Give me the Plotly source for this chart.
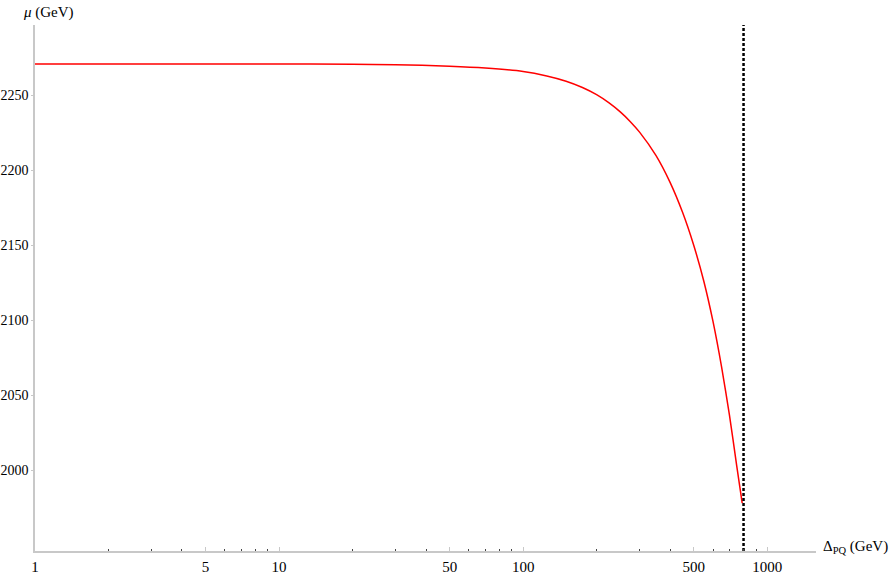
"""mu vs Delta_PQ curve, Mathematica-style log-x plot."""

import plotly.graph_objects as go

_FONT = "Liberation Serif, Times New Roman, serif"
_AXIS = "#c8c8c8"
_RED = "#ff0000"

# red curve
delta_pq = [1, 3, 10, 20, 30, 50, 70, 100, 125, 150, 175, 200, 225, 250, 275,
            300, 350, 400, 450, 500, 550, 600, 650, 700, 750, 790]
mu = [2271, 2271, 2271, 2270.8, 2270.5, 2269.5, 2268.3, 2266, 2263, 2259.5,
      2255.3, 2250.5, 2245, 2239, 2232.5, 2225.5, 2210, 2192, 2172, 2150,
      2126, 2099, 2069, 2037, 2003, 1978]

# vertical dashed boundary
bound_x = [800, 800]
bound_y = [1946, 2297]

x_ticks = [1, 5, 10, 50, 100, 500, 1000]
x_minor = [2, 3, 4, 6, 7, 8, 9, 20, 30, 40, 60, 70, 80, 90,
           200, 300, 400, 600, 700, 800, 900]
y_ticks = [2000, 2050, 2100, 2150, 2200, 2250]

fig = go.Figure()
fig.add_trace(go.Scatter(
    x=delta_pq, y=mu, mode="lines",
    line=dict(color=_RED, width=1.5, shape="spline", smoothing=0.8),
))
fig.add_trace(go.Scatter(
    x=bound_x, y=bound_y, mode="lines",
    line=dict(color="black", width=2.5, dash="3px,2px"),
))

fig.update_layout(
    width=893, height=574,
    plot_bgcolor="white", paper_bgcolor="white",
    margin=dict(l=35, r=77, t=25, b=23),
    font=dict(family=_FONT, size=15, color="black"),
    showlegend=False,
    xaxis=dict(
        type="log", range=[0, 3.2], showgrid=False, zeroline=False,
        showline=True, linecolor=_AXIS, linewidth=1.5,
        tickvals=x_ticks, ticktext=[str(v) for v in x_ticks],
        ticks="inside", ticklen=4, tickcolor=_AXIS,
        minor=dict(tickvals=x_minor, ticks="inside", ticklen=2,
                   tickcolor="#444444", showgrid=False),
        automargin=False, ticklabelstandoff=1,
    ),
    yaxis=dict(
        range=[1946, 2297], showgrid=False, zeroline=False,
        showline=True, linecolor=_AXIS, linewidth=1.5,
        tickvals=y_ticks, ticks="outside", ticklen=2, tickcolor=_AXIS,
        tickfont=dict(size=14), automargin=False, ticklabelstandoff=0,
    ),
    annotations=[
        dict(text="<i>μ</i> (GeV)", xref="paper", yref="paper",
             x=-0.018, y=1.0, yshift=13, xanchor="left", yanchor="middle",
             showarrow=False, font=dict(size=15)),
        dict(text="Δ<sub>PQ</sub> (GeV)", xref="paper", yref="paper",
             x=1.0, y=0.0, xshift=5, yshift=4, xanchor="left", yanchor="middle",
             showarrow=False, font=dict(size=15)),
    ],
)

# drop the default body margin so the figure sits at the window's corner
fig.write_html("out.html", config={"displayModeBar": False},
               post_script="document.body.style.margin='0';")
